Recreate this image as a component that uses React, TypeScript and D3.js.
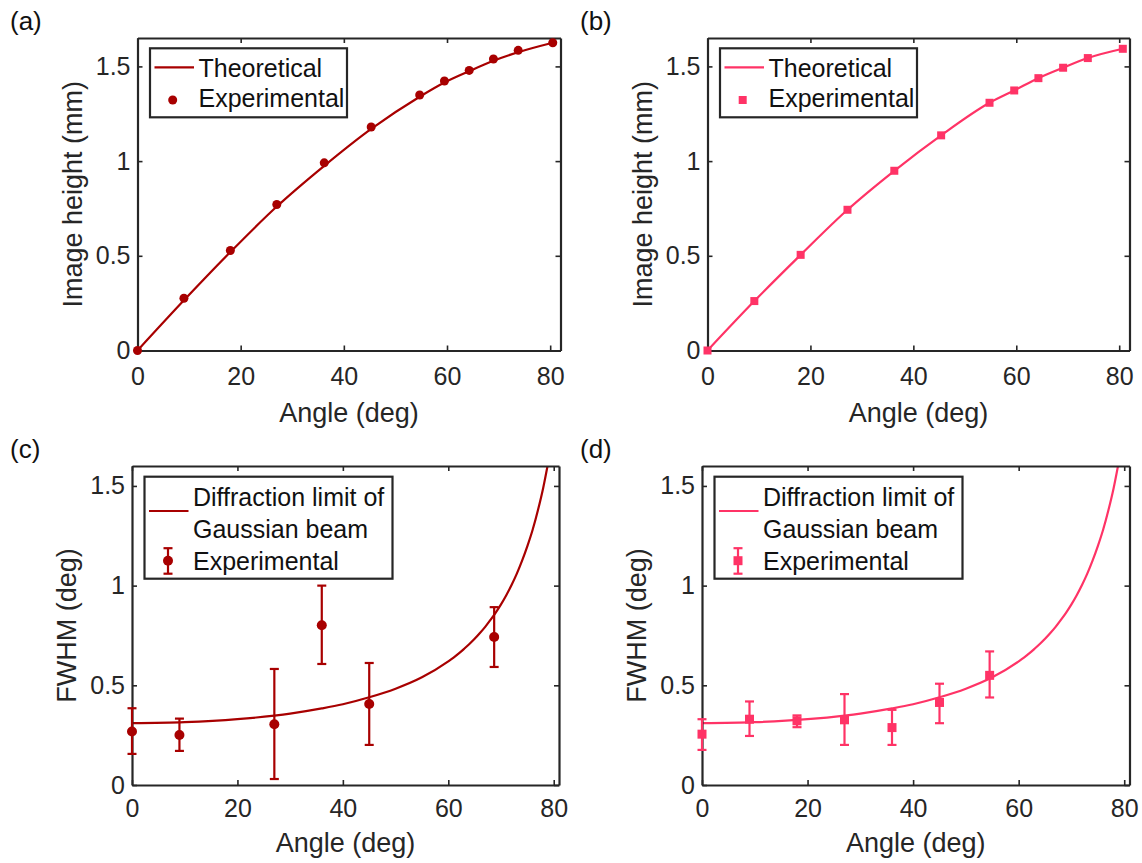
import React, { useEffect, useRef } from 'react';
import * as d3 from 'd3';

// image height vs angle, panels (a) and (b)
const heightAngleA = [0, 9, 18, 27, 36.2, 45.3, 54.7, 59.5, 64.3, 69, 73.8, 80.5];
const theoryHeightA = [0, 0.265, 0.52, 0.76, 0.975, 1.17, 1.34, 1.415, 1.475, 1.53, 1.575, 1.625];
const exptHeightA = [0, 0.276, 0.528, 0.771, 0.991, 1.18, 1.349, 1.423, 1.479, 1.539, 1.585, 1.625];

const heightAngleB = [0, 9.1, 18.1, 27.2, 36.3, 45.4, 54.8, 59.6, 64.3, 69.1, 73.9, 80.7];
const theoryHeightB = [0, 0.261, 0.505, 0.743, 0.949, 1.136, 1.308, 1.373, 1.438, 1.493, 1.544, 1.593];
const exptHeightB = [0, 0.261, 0.505, 0.743, 0.949, 1.136, 1.308, 1.373, 1.438, 1.493, 1.544, 1.593];

// diffraction limit curve (c) and (d)
const theoryAngle = [0, 10, 20, 27, 30, 36, 40, 45, 50, 55, 60, 61, 62, 63, 64, 65, 66, 67, 68, 69, 70, 71, 72, 73, 74, 75, 76, 77, 78, 79];
const theoryFwhm = [0.31, 0.315, 0.33, 0.348, 0.358, 0.384, 0.405, 0.44, 0.483, 0.54, 0.62, 0.639, 0.66, 0.683, 0.707, 0.733, 0.762, 0.793, 0.828, 0.865, 0.906, 0.952, 1.003, 1.06, 1.125, 1.198, 1.28, 1.378, 1.49, 1.625];

// measured FWHM with error bars, panel (c)
const angleC = [0, 9, 27, 36, 45, 68.7];
const fwhmC = [0.268, 0.251, 0.305, 0.801, 0.406, 0.742];
const fwhmHighC = [0.385, 0.333, 0.582, 1.0, 0.612, 0.892];
const fwhmLowC = [0.156, 0.171, 0.03, 0.607, 0.201, 0.592];

// measured FWHM with error bars, panel (d)
const angleD = [0, 9, 18, 27, 36, 45, 54.5];
const fwhmD = [0.255, 0.33, 0.322, 0.327, 0.288, 0.414, 0.55];
const fwhmHighD = [0.33, 0.419, 0.349, 0.456, 0.377, 0.508, 0.67];
const fwhmLowD = [0.176, 0.246, 0.29, 0.201, 0.201, 0.31, 0.439];

const xTicks = [0, 20, 40, 60, 80];
const yTicks = [0, 0.5, 1, 1.5];

const DARK_RED = '#a80000';
const PINK = '#ff3366';
const INK = '#262626';
const FONT = '"Liberation Sans", Arial, Helvetica, sans-serif';

const zip = (xs, ys) => xs.map((v, i) => ({ x: v, y: ys[i] }));

function drawPanel(svg, p) {
  const x = d3.scaleLinear().domain([0, p.xMax]).range([p.left, p.right]);
  const y = d3.scaleLinear().domain([0, p.yMax]).range([p.bottom, p.top]);
  const g = svg.append('g');

  const clipId = 'clip-' + p.name;
  g.append('clipPath')
    .attr('id', clipId)
    .append('rect')
    .attr('x', p.left)
    .attr('y', p.top)
    .attr('width', p.right - p.left)
    .attr('height', p.bottom - p.top);

  // theory curve
  const line = d3
    .line()
    .x((d) => x(d.x))
    .y((d) => y(d.y))
    .curve(d3.curveMonotoneX);
  g.append('path')
    .attr('clip-path', `url(#${clipId})`)
    .attr('d', line(p.theory))
    .attr('fill', 'none')
    .attr('stroke', p.color)
    .attr('stroke-width', 2.2);

  // axes, ticks pointing inward on all sides
  const styleAxis = (sel) => {
    sel.attr('font-family', FONT).attr('font-size', 25);
    sel.selectAll('path').attr('stroke', INK).attr('stroke-width', 2.2);
    sel.selectAll('line').attr('stroke', INK).attr('stroke-width', 1.6);
    sel.selectAll('text').attr('fill', INK);
  };
  g.append('g')
    .attr('transform', `translate(0,${p.bottom})`)
    .call(d3.axisBottom(x).tickValues(xTicks).tickSize(-5).tickSizeOuter(0).tickPadding(p.xPad))
    .call(styleAxis);
  g.append('g')
    .attr('transform', `translate(0,${p.top})`)
    .call(d3.axisTop(x).tickValues(xTicks).tickSize(-5).tickSizeOuter(0).tickFormat(() => ''))
    .call(styleAxis);
  g.append('g')
    .attr('transform', `translate(${p.left},0)`)
    .call(d3.axisLeft(y).tickValues(yTicks).tickSize(-5).tickSizeOuter(0).tickPadding(7).tickFormat((d) => String(d)))
    .call(styleAxis);
  g.append('g')
    .attr('transform', `translate(${p.right},0)`)
    .call(d3.axisRight(y).tickValues(yTicks).tickSize(-5).tickSizeOuter(0).tickFormat(() => ''))
    .call(styleAxis);

  // axis titles
  g.append('text')
    .attr('x', (p.left + p.right) / 2)
    .attr('y', p.xTitleY)
    .attr('text-anchor', 'middle')
    .attr('font-family', FONT)
    .attr('font-size', 27)
    .attr('fill', INK)
    .text('Angle (deg)');
  g.append('text')
    .attr('transform', `translate(${p.left - 56},${(p.top + p.bottom) / 2}) rotate(-90)`)
    .attr('text-anchor', 'middle')
    .attr('font-family', FONT)
    .attr('font-size', 27)
    .attr('fill', INK)
    .text(p.yTitle);

  // error bars
  if (p.high) {
    const bars = g.selectAll('.err').data(p.points.map((d, i) => ({ ...d, hi: p.high[i], lo: p.low[i] }))).enter().append('g');
    bars.append('line')
      .attr('x1', (d) => x(d.x)).attr('x2', (d) => x(d.x))
      .attr('y1', (d) => y(d.hi)).attr('y2', (d) => y(d.lo));
    bars.append('line')
      .attr('x1', (d) => x(d.x) - 4.5).attr('x2', (d) => x(d.x) + 4.5)
      .attr('y1', (d) => y(d.hi)).attr('y2', (d) => y(d.hi));
    bars.append('line')
      .attr('x1', (d) => x(d.x) - 4.5).attr('x2', (d) => x(d.x) + 4.5)
      .attr('y1', (d) => y(d.lo)).attr('y2', (d) => y(d.lo));
    bars.selectAll('line').attr('stroke', p.color).attr('stroke-width', 2.2);
  }

  // markers
  const drawMarker = (sel, cx, cy) => {
    if (p.marker === 'circle') {
      sel.append('circle').attr('cx', cx).attr('cy', cy).attr('r', p.size).attr('fill', p.color);
    } else {
      sel.append('rect')
        .attr('x', cx - p.size).attr('y', cy - p.size)
        .attr('width', p.size * 2).attr('height', p.size * 2)
        .attr('fill', p.color);
    }
  };
  p.points.forEach((d) => drawMarker(g, x(d.x), y(d.y)));

  // legend
  const lg = p.legend;
  const leg = g.append('g').attr('transform', `translate(${lg.x},${lg.y})`);
  leg.append('rect')
    .attr('width', lg.w).attr('height', lg.h)
    .attr('fill', '#fff').attr('stroke', INK).attr('stroke-width', 2.2);
  leg.append('line')
    .attr('x1', 4.5).attr('x2', 44).attr('y1', lg.lineY).attr('y2', lg.lineY)
    .attr('stroke', p.color).attr('stroke-width', 2.2);
  lg.rows.forEach((t, i) => {
    leg.append('text')
      .attr('x', 48.5)
      .attr('y', lg.rowY[i])
      .attr('font-family', FONT)
      .attr('font-size', 25)
      .attr('fill', '#111')
      .text(t);
  });
  if (p.high) {
    leg.append('line').attr('x1', 23.5).attr('x2', 23.5).attr('y1', lg.markY - 12.5).attr('y2', lg.markY + 13);
    leg.append('line').attr('x1', 19).attr('x2', 28).attr('y1', lg.markY - 12.5).attr('y2', lg.markY - 12.5);
    leg.append('line').attr('x1', 19).attr('x2', 28).attr('y1', lg.markY + 13).attr('y2', lg.markY + 13);
    leg.selectAll('line:not(:first-of-type)').attr('stroke', p.color).attr('stroke-width', 2.2);
  }
  drawMarker(leg, lg.markX, lg.markY);

  // panel letter
  svg.append('text')
    .attr('x', p.tagX)
    .attr('y', p.tagY)
    .attr('font-family', FONT)
    .attr('font-size', 26)
    .attr('fill', '#111')
    .text(p.tag);
}

const App = () => {
  const svgRef = useRef(null);

  useEffect(() => {
    const svg = d3.select(svgRef.current);
    svg.selectAll('*').remove();

    const topRow = { top: 38, bottom: 350.5, xMax: 82, yMax: 1.65, xPad: 16.5, xTitleY: 422, yTitle: 'Image height (mm)', tagY: 30 };
    const bottomRow = { top: 466, bottom: 785, xMax: 81, yMax: 1.6, xPad: 14, xTitleY: 852, yTitle: 'FWHM (deg)', tagY: 458 };
    const heightLegend = { w: 197, h: 69, lineY: 19, rows: ['Theoretical', 'Experimental'], rowY: [28.4, 58.4], markX: 22.7, markY: 51.7 };
    const fwhmLegend = { w: 248, h: 102, lineY: 34.3, rows: ['Diffraction limit of', 'Gaussian beam', 'Experimental'], rowY: [29.3, 61.3, 93.3], markX: 23.5, markY: 84 };

    drawPanel(svg, {
      ...topRow, name: 'a', tag: '(a)', tagX: 10, left: 137.5, right: 560.5,
      color: DARK_RED, marker: 'circle', size: 4.5,
      theory: zip(heightAngleA, theoryHeightA), points: zip(heightAngleA, exptHeightA),
      legend: { ...heightLegend, x: 150, y: 48.3 },
    });
    drawPanel(svg, {
      ...topRow, name: 'b', tag: '(b)', tagX: 580, left: 707.5, right: 1129.5,
      color: PINK, marker: 'square', size: 4,
      theory: zip(heightAngleB, theoryHeightB), points: zip(heightAngleB, exptHeightB),
      legend: { ...heightLegend, x: 720, y: 48.3 },
    });
    drawPanel(svg, {
      ...bottomRow, name: 'c', tag: '(c)', tagX: 10, left: 132, right: 559,
      color: DARK_RED, marker: 'circle', size: 5,
      theory: zip(theoryAngle, theoryFwhm), points: zip(angleC, fwhmC), high: fwhmHighC, low: fwhmLowC,
      legend: { ...fwhmLegend, x: 144.5, y: 476.7 },
    });
    drawPanel(svg, {
      ...bottomRow, name: 'd', tag: '(d)', tagX: 580, left: 702, right: 1129.5,
      color: PINK, marker: 'square', size: 4.5,
      theory: zip(theoryAngle, theoryFwhm), points: zip(angleD, fwhmD), high: fwhmHighD, low: fwhmLowD,
      legend: { ...fwhmLegend, x: 714.5, y: 476.7 },
    });
  }, []);

  return (
    <svg
      ref={svgRef}
      width={1142}
      height={863}
      style={{ position: 'absolute', left: 0, top: 0, background: '#fff' }}
    />
  );
};

export default App;
